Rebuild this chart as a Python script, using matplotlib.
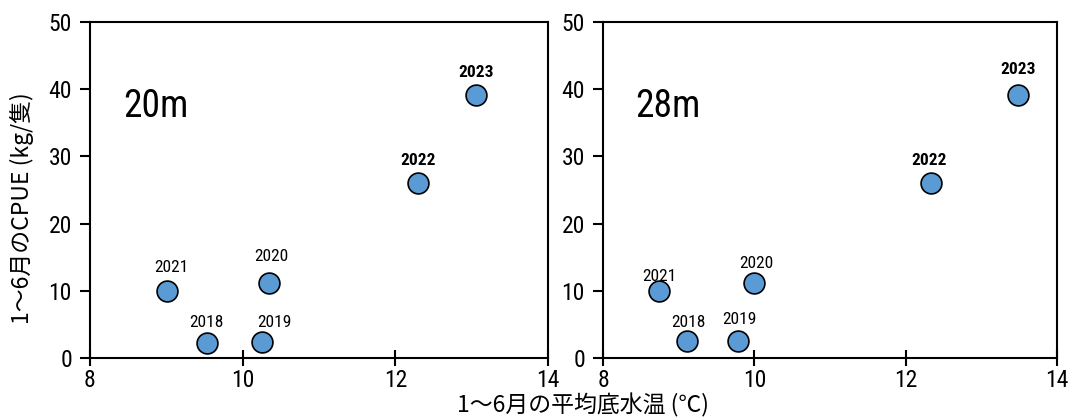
import numpy as np
import matplotlib.pyplot as plt

# 1-6月の平均底水温 と CPUE
years = ['2018', '2019', '2020', '2021', '2022', '2023']
temp_20m = [9.53, 10.26, 10.35, 9.01, 12.30, 13.06]
cpue_20m = [2.3, 2.4, 11.1, 9.9, 26.0, 39.2]
temp_28m = [9.11, 9.78, 10.00, 8.74, 12.33, 13.49]
cpue_28m = [2.5, 2.6, 11.2, 9.9, 26.0, 39.2]

# label offsets (pixels) for each year label
off_20m = [(0, 20), (12, 19), (2, 27), (4, 24), (0, 23), (0, 22)]
off_28m = [(1, 19), (2, 21), (2, 19), (0, 15), (-2, 23), (0, 25)]

narrow = ['Roboto Condensed', 'PT Sans Narrow', 'Archivo Narrow',
          'Noto Sans CJK JP', 'DejaVu Sans']
jp = ['Noto Sans CJK JP', 'DejaVu Sans']
plt.rcParams['font.family'] = narrow

fig = plt.figure(figsize=(10.7, 4.18), dpi=100)
ax1 = fig.add_axes([0.0841, 0.1435, 0.428, 0.8038])
ax2 = fig.add_axes([0.5636, 0.1435, 0.4243, 0.8038])

for ax, tx, cy, offs, name in [(ax1, temp_20m, cpue_20m, off_20m, '20m'),
                               (ax2, temp_28m, cpue_28m, off_28m, '28m')]:
    ax.scatter(tx, cy, s=225, c='#5b9bd5', edgecolors='black', linewidths=1.2, zorder=3)
    for yr, x, y, o in zip(years, tx, cy, offs):
        bold = yr in ('2022', '2023')
        ax.annotate(yr, (x, y), xytext=o, textcoords='offset pixels',
                    ha='center', va='center', fontsize=12.5,
                    fontweight='bold' if bold else 'normal')
    ax.text(8.43, 37.5, name, fontsize=27, va='center', ha='left')
    ax.set_xlim(8, 14)
    ax.set_ylim(0, 50)
    ax.set_xticks([8, 10, 12, 14])
    ax.set_yticks([0, 10, 20, 30, 40, 50])
    ax.tick_params(axis='x', direction='inout', length=12, width=1.5, labelsize=17, pad=2)
    ax.tick_params(axis='y', direction='out', length=7, width=1.5, labelsize=17, pad=6)
    for sp in ax.spines.values():
        sp.set_linewidth(1.5)

fig.text(22 / 1070, 1 - 208 / 418, '1〜6月のCPUE (kg/隻)', rotation=90,
         ha='center', va='center', fontsize=16.5, family=jp)
fig.text(583 / 1070, 1 / 418, '1〜6月の平均底水温 (℃)',
         ha='center', va='bottom', fontsize=16.5, family=jp)

fig.savefig('out.png', dpi=100)
